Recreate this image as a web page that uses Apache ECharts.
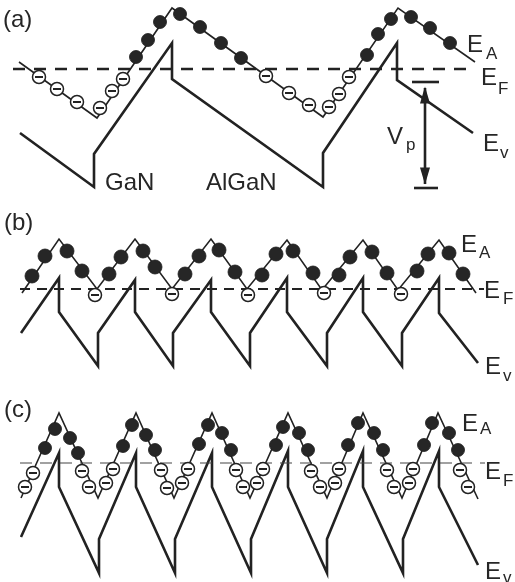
<!DOCTYPE html>
<html>
<head>
<meta charset="utf-8">
<script src="https://cdn.jsdelivr.net/npm/echarts@6/dist/echarts.min.js"></script>
<style>
html,body{margin:0;padding:0;background:#fff;}
#chart{width:515px;height:582px;}
</style>
</head>
<body>
<div id="chart"></div>
<script>
// ---- Data (diagram coordinates; y grows downward) ----
// Panel (a)
const aAcceptor = [[19,62],[97,118],[172,8],[323,117],[398,8],[475,62]];
const aValence  = [[20,133],[94,187],[94,154],[172,43],[172,79],[323,187],[323,153],[397,43],[397,80],[473,133]];
const aFermi    = [[13,69],[475,69]];
const aFilled   = [[136,57],[148,40],[160,22],[180,14],[200,27],[221,43],[241,58],
                   [367,55],[378,34],[391,19],[411,17],[430,28],[450,43]];
const aOpen     = [[39,77],[57,89],[77,102],[100,108],[112,91],[123,79],
                   [266,76],[289,93],[309,105],[329,107],[339,94],[349,77]];
const vpShaft   = [[425,88],[425,184]];
const vpTopBar  = [[412,82],[439,82]];
const vpBotBar  = [[414,188],[438,188]];
const vpHeads   = [[425,95,0],[425,176,180]];

// Panel (b)
const bAcceptor = [[22,293],[59,239],[97,289],[135,239],[172,289],[211,239],[247,289],[287,240],[322,290],[363,240],[398,290],[439,240],[476,293]];
const bValence  = [[21,333],[59,278],[59,312],[98,366],[98,333],[135,280],[135,312],[173,366],[173,333],[211,280],[211,312],[250,366],[250,333],
                   [287,278],[287,312],[327,366],[327,333],[363,278],[363,312],[402,366],[402,333],[439,278],[439,313],[478,363]];
const bFermi    = [[20,289],[484,289]];
const bFilled   = [[32,276],[45,256],[67,251],[82,271],[109,274],[121,257],[143,251],[155,267],[185,274],[199,256],[219,250],[235,272],
                   [262,275],[276,254],[293,251],[313,273],[339,275],[350,257],[372,252],[387,273],[417,271],[428,254],[449,253],[463,274]];
const bOpen     = [[95,295],[172,294],[248,295],[324,293],[401,294]];

// Panel (c)
const cAcceptor = [[21,498],[59,413],[98,498],[136,413],[174,498],[212,413],[250,498],[288,413],[327,498],[363,413],[402,498],[438,413],[478,499]];
const cValence  = [[21,537],[59,453],[59,487],[99,573],[99,539],[136,453],[136,487],[175,573],[175,539],[212,453],[212,487],[251,573],[251,539],
                   [288,451],[288,487],[327,573],[327,539],[363,451],[363,487],[403,573],[403,539],[439,451],[439,487],[478,565]];
const cFermi    = [[20,463],[485,463]];
const cFilled   = [[45,448],[55,429],[70,438],[78,453],[123,446],[132,425],[146,435],[155,450],[199,444],[208,425],[222,433],[231,450],
                   [276,445],[283,427],[299,433],[308,450],[348,445],[358,423],[374,433],[383,450],[424,445],[432,423],[449,433],[458,450]];
const cOpen     = [[25,487],[33,473],[82,471],[89,487],[106,483],[113,469],[161,470],[167,488],[182,483],[188,469],[236,470],[243,487],
                   [257,483],[263,469],[311,471],[320,487],[335,483],[339,469],[387,470],[394,487],[409,483],[413,469],[460,470],[468,487]];

// Text labels: [text, x, y]
const bigLabels = [
  ['(a)',3,20],['GaN',105,183],['AlGaN',206,183],
  ['E',467,45],['E',481,78],['E',483,144],['V',387,137],
  ['(b)',4,223],['E',461,245],['E',484,291],['E',485,367],
  ['(c)',4,410],['E',462,424],['E',485,472],['E',485,572]
];
const subLabels = [
  ['A',486,54],['F',498,89],['v',500,153],['p',406,145],
  ['A',479,253],['F',503,299],['v',503,376],
  ['A',480,429],['F',503,481],['v',503,578]
];

// ---- Chart ----
const INK = '#222';
const TXT = '#262626';
const FONT = 'Liberation Sans, Arial, sans-serif';

function curve(data, width) {
  return {
    type: 'line', data: data, symbol: 'none', silent: true, z: 2,
    lineStyle: { color: INK, width: width, cap: 'butt', join: 'miter', opacity: 1 }
  };
}
function dashed(data, width, dash, color) {
  return {
    type: 'line', data: data, symbol: 'none', silent: true, z: 2,
    lineStyle: { color: color, width: width, type: dash, cap: 'butt', opacity: 1 }
  };
}
function filled(data, size) {
  return { type: 'scatter', data: data, symbol: 'circle', symbolSize: size, silent: true, z: 4,
           itemStyle: { color: '#262626', borderColor: '#1a1a1a', borderWidth: 0.8, opacity: 1 } };
}
function openC(data, size) {
  return [
    { type: 'scatter', data: data, symbol: 'circle', symbolSize: size, silent: true, z: 4,
      itemStyle: { color: '#fff', borderColor: INK, borderWidth: 1.5, opacity: 1 } },
    { type: 'scatter', data: data, symbol: 'rect', symbolSize: [size - 5, 2], silent: true, z: 5,
      itemStyle: { color: INK, opacity: 1 } }
  ];
}
function textSeries(list, size) {
  return {
    type: 'scatter', symbolSize: 0, silent: true, z: 6,
    itemStyle: { opacity: 1 },
    data: list.map(d => ({ name: d[0], value: [d[1], d[2]] })),
    label: { show: true, position: 'inside', align: 'left', verticalAlign: 'middle',
             formatter: p => p.name, fontSize: size, fontFamily: FONT, color: TXT,
             textBorderWidth: 0, textBorderColor: 'transparent', opacity: 1 }
  };
}

const chart = echarts.init(document.getElementById('chart'), null, { renderer: 'canvas' });
chart.setOption({
  animation: false,
  backgroundColor: '#fff',
  grid: { left: 0, right: 0, top: 0, bottom: 0 },
  xAxis: { type: 'value', min: 0, max: 515, show: false },
  yAxis: { type: 'value', min: 0, max: 582, inverse: true, show: false },
  series: [
    curve(aValence, 2.6), curve(aAcceptor, 1.6), dashed(aFermi, 2.4, [12, 9], INK),
    curve(bValence, 2.6), curve(bAcceptor, 1.6), dashed(bFermi, 1.8, [10, 7], INK),
    curve(cValence, 2.6), curve(cAcceptor, 1.6), dashed(cFermi, 1.2, [12, 8], '#444'),
    curve(vpShaft, 2.6), curve(vpTopBar, 2.6), curve(vpBotBar, 2.6),
    { type: 'scatter', symbol: 'triangle', symbolSize: [10, 17], silent: true, z: 3,
      data: vpHeads.map(d => ({ value: [d[0], d[1]], symbolRotate: d[2] })),
      itemStyle: { color: INK, opacity: 1 } },
    filled(aFilled, 13), ...openC(aOpen, 13),
    filled(bFilled, 14), ...openC(bOpen, 13),
    filled(cFilled, 13), ...openC(cOpen, 13),
    textSeries(bigLabels, 24), textSeries(subLabels, 17)
  ]
});
</script>
</body>
</html>
